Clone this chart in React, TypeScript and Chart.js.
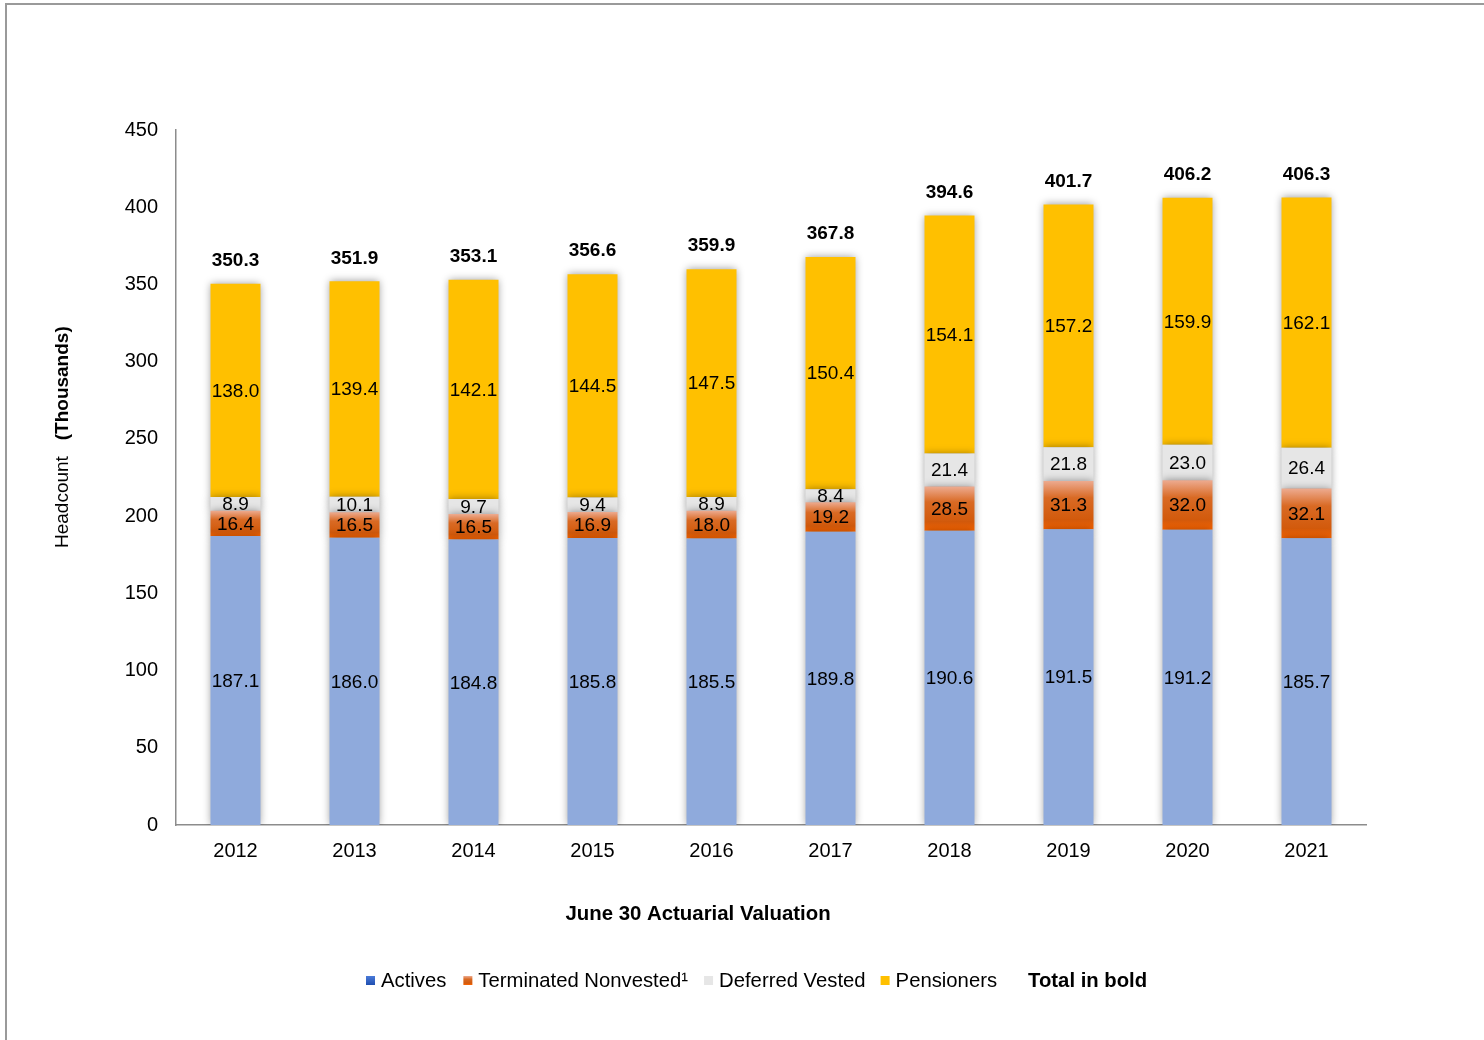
import React, { useEffect, useRef } from "react";
import { Chart, registerables } from "chart.js";

Chart.register(...registerables);

const years = ["2012", "2013", "2014", "2015", "2016", "2017", "2018", "2019", "2020", "2021"];
const actives = [187.1, 186.0, 184.8, 185.8, 185.5, 189.8, 190.6, 191.5, 191.2, 185.7];
const terminated = [16.4, 16.5, 16.5, 16.9, 18.0, 19.2, 28.5, 31.3, 32.0, 32.1];
const deferred = [8.9, 10.1, 9.7, 9.4, 8.9, 8.4, 21.4, 21.8, 23.0, 26.4];
const pensioners = [138.0, 139.4, 142.1, 144.5, 147.5, 150.4, 154.1, 157.2, 159.9, 162.1];
const totals = [350.3, 351.9, 353.1, 356.6, 359.9, 367.8, 394.6, 401.7, 406.2, 406.3];

const seriesNames = ["Actives", "Terminated Nonvested\u00B9", "Deferred Vested", "Pensioners"];
const FONT = "'Liberation Sans', Arial, sans-serif";

function orangeGradient(c: CanvasRenderingContext2D, y0: number, y1: number) {
  const g = c.createLinearGradient(0, y0, 0, y1);
  g.addColorStop(0, "#EDAB90");
  g.addColorStop(0.35, "#D96A24");
  g.addColorStop(0.8, "#D25A0C");
  g.addColorStop(1, "#FF6600");
  return g;
}

const framePlugin = {
  id: "frame",
  beforeDraw(chart: any) {
    const c = chart.ctx as CanvasRenderingContext2D;
    c.save();
    c.fillStyle = "#fff";
    c.fillRect(0, 0, chart.width, chart.height);
    c.strokeStyle = "#9a9a9a";
    c.lineWidth = 2;
    c.beginPath();
    c.moveTo(6, chart.height);
    c.lineTo(6, 4);
    c.lineTo(chart.width, 4);
    c.stroke();
    c.restore();
  },
};

const shadowPlugin = {
  id: "barShadow",
  beforeDatasetsDraw(chart: any) {
    const c = chart.ctx as CanvasRenderingContext2D;
    c.save();
    c.shadowColor = "rgba(0,0,0,0.4)";
    c.shadowBlur = 8;
    c.shadowOffsetX = 0;
    c.shadowOffsetY = 0;
  },
  afterDatasetsDraw(chart: any) {
    const c = chart.ctx as CanvasRenderingContext2D;
    c.restore();
    // segment labels
    c.save();
    c.fillStyle = "#000";
    c.textAlign = "center";
    c.textBaseline = "middle";
    c.font = `19px ${FONT}`;
    chart.data.datasets.forEach((ds: any, di: number) => {
      const meta = chart.getDatasetMeta(di);
      meta.data.forEach((el: any, i: number) => {
        const v = ds.data[i] as number;
        c.fillText(v.toFixed(1), el.x, (el.y + el.base) / 2 + 1);
      });
    });
    // totals
    c.font = `bold 19px ${FONT}`;
    const topMeta = chart.getDatasetMeta(chart.data.datasets.length - 1);
    topMeta.data.forEach((el: any, i: number) => {
      c.fillText(totals[i].toFixed(1), el.x, el.y - 23);
    });
    c.restore();
  },
  afterDraw(chart: any) {
    const c = chart.ctx as CanvasRenderingContext2D;
    c.save();
    c.fillStyle = "#000";
    // y-axis title
    c.translate(63, 548);
    c.rotate(-Math.PI / 2);
    c.textBaseline = "middle";
    c.textAlign = "left";
    c.font = `19px ${FONT}`;
    const t1 = "Headcount   ";
    c.fillText(t1, 0, 0);
    const w1 = c.measureText(t1).width;
    c.font = `bold 19px ${FONT}`;
    c.fillText("(Thousands)", w1, 0);
    c.restore();

    // x-axis title
    c.save();
    c.fillStyle = "#000";
    c.textAlign = "center";
    c.textBaseline = "middle";
    c.font = `bold 20.4px ${FONT}`;
    c.fillText("June 30 Actuarial Valuation", 698, 914);
    c.restore();

    // legend
    c.save();
    c.textBaseline = "middle";
    c.textAlign = "left";
    const ly = 980;
    let x = 366;
    const gaps = [17, 16, 15, 31];
    seriesNames.forEach((name, k) => {
      const s = 9;
      const top = ly - 4;
      let fill: any;
      if (k === 0) {
        const g = c.createLinearGradient(0, top, 0, top + s);
        g.addColorStop(0, "#4A7AD8");
        g.addColorStop(1, "#1F4FB0");
        fill = g;
      } else if (k === 1) {
        fill = orangeGradient(c, top, top + s);
      } else if (k === 2) {
        fill = "#E6E6E6";
      } else {
        fill = "#FFC000";
      }
      c.fillStyle = fill;
      c.fillRect(x, top, s, s);
      x += s + 6;
      c.fillStyle = "#000";
      c.font = `20.3px ${FONT}`;
      c.fillText(name, x, ly + 1);
      x += c.measureText(name).width + gaps[k];
    });
    c.font = `bold 20.3px ${FONT}`;
    c.fillStyle = "#000";
    c.fillText("Total in bold", x, ly + 1);
    c.restore();
  },
};

export default function App() {
  const ref = useRef<HTMLCanvasElement>(null);
  useEffect(() => {
    document.body.style.margin = "0";
    const canvas = ref.current!;
    const chart = new Chart(canvas, {
      type: "bar",
      data: {
        labels: years,
        datasets: [
          { label: seriesNames[0], data: actives, backgroundColor: "#8FAADC" },
          {
            label: seriesNames[1],
            data: terminated,
            backgroundColor: (ctx: any) => {
              const chart = ctx.chart;
              const y = chart.scales && chart.scales.y;
              if (!y || ctx.type !== "data") return "#D9641A";
              const i = ctx.dataIndex;
              const y0 = y.getPixelForValue(actives[i] + terminated[i]);
              const y1 = y.getPixelForValue(actives[i]);
              if (!isFinite(y0) || !isFinite(y1)) return "#D9641A";
              return orangeGradient(chart.ctx, y0, y1);
            },
          },
          { label: seriesNames[2], data: deferred, backgroundColor: "#E6E6E6" },
          { label: seriesNames[3], data: pensioners, backgroundColor: "#FFC000" },
        ],
      },
      options: {
        responsive: false,
        animation: false,
        devicePixelRatio: 1,
        layout: { padding: { left: 0, right: 118, top: 130, bottom: 0 } },
        datasets: { bar: { categoryPercentage: 1, barPercentage: 0.42 } },
        plugins: { legend: { display: false }, tooltip: { enabled: false } },
        scales: {
          x: {
            stacked: true,
            grid: { display: false },
            border: { display: true, color: "#8c8c8c", width: 1.5 },
            ticks: { color: "#000", font: { family: FONT, size: 20 }, padding: 6, maxRotation: 0 },
            afterFit: (s: any) => {
              s.height = 215;
            },
          },
          y: {
            stacked: true,
            min: 0,
            max: 450,
            grid: { display: false },
            border: { display: true, color: "#8c8c8c", width: 1.5 },
            ticks: { stepSize: 50, color: "#000", font: { family: FONT, size: 20 }, padding: 10 },
            afterFit: (s: any) => {
              s.width = 176;
            },
          },
        },
      },
      plugins: [framePlugin, shadowPlugin],
    } as any);
    return () => chart.destroy();
  }, []);
  return (
    <div style={{ width: 1484, height: 1040 }}>
      <canvas ref={ref} width={1484} height={1040} style={{ display: "block" }} />
    </div>
  );
}
